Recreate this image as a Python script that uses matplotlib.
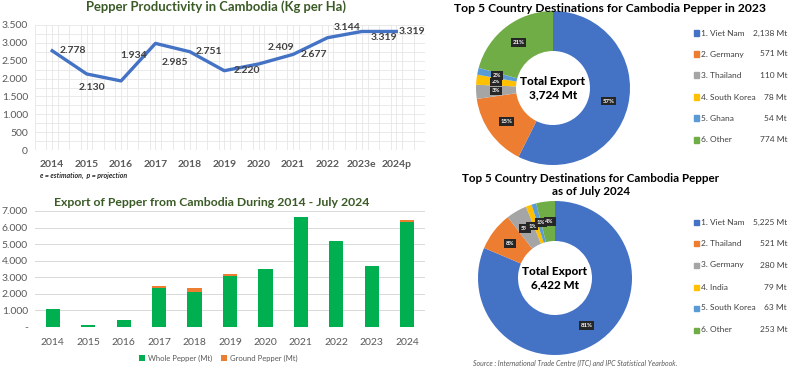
import matplotlib
matplotlib.use("Agg")
import matplotlib.pyplot as plt
import numpy as np
from matplotlib.patches import Rectangle

plt.rcParams['font.family'] = ['Lato', 'DejaVu Sans']

# productivity (kg per ha)
prod_years = ['2014', '2015', '2016', '2017', '2018', '2019', '2020', '2021', '2022', '2023e', '2024p']
prod_values = [2778, 2130, 1934, 2985, 2751, 2220, 2409, 2677, 3144, 3319, 3319]

# exports (Mt)
exp_years = ['2014', '2015', '2016', '2017', '2018', '2019', '2020', '2021', '2022', '2023', '2024']
whole_pepper = [1080, 140, 440, 2340, 2100, 3080, 3480, 6620, 5180, 3700, 6360]
ground_pepper = [0, 0, 0, 160, 260, 100, 0, 0, 0, 0, 70]

# destinations (percent labels as printed in the source chart)
dest23_names = ['1. Viet Nam', '2. Germany', '3. Thailand', '4. South Korea', '5. Ghana', '6. Other']
dest23_values = [2138, 571, 110, 78, 54, 774]
dest23_pct = [57, 15, 3, 2, 2, 21]
dest24_names = ['1. Viet Nam', '2. Thailand', '3. Germany', '4. India', '5. South Korea', '6. Other']
dest24_values = [5225, 521, 280, 79, 63, 253]
dest24_pct = [81, 8, 5, 1, 1, 4]

W, H = 800, 380
fig = plt.figure(figsize=(8, 3.8), dpi=100)


def ax_px(l, t, r, b):
    return fig.add_axes([l / W, 1 - b / H, (r - l) / W, (b - t) / H])


title_green = '#3a5a26'
tick_gray = '#595959'

# ---------- line chart ----------
ax = ax_px(35, 25, 425, 150)
x = np.arange(len(prod_years))
ax.plot(x, prod_values, color='#4472C4', lw=2.4, solid_joinstyle='round', zorder=3)
ax.set_xlim(-0.5, len(prod_years) - 0.5)
ax.set_ylim(0, 3500)
ax.set_yticks(np.arange(0, 3501, 500))
ax.set_yticklabels([f'{v:,}'.replace(',', '.') for v in range(0, 3501, 500)])
ax.set_yticks(np.arange(0, 3501, 250), minor=True)
ax.set_xticks(x)
ax.set_xticklabels(prod_years)
ax.set_xticks(np.arange(-0.5, len(prod_years), 1 / 3), minor=True)
ax.grid(True, which='both', color='#e6e6e6', lw=0.6)
ax.set_axisbelow(True)
for s in ax.spines.values():
    s.set_visible(False)
ax.tick_params(which='both', length=0)
ax.tick_params(axis='y', labelsize=7.5, colors=tick_gray, pad=5)
ax.tick_params(axis='x', labelsize=7.5, colors=tick_gray, pad=7)
for lab in ax.get_xticklabels():
    lab.set_fontweight('bold')

label_offsets = [(15, 0), (4, -10), (9, 18), (14, -14), (14, 0), (16, 0),
                 (16, 12), (15, 0), (14, 7), (16, -4), (11, 0)]
for i, v in enumerate(prod_values):
    dx, dy = label_offsets[i]
    ax.annotate(f'{v:,}'.replace(',', '.'), (x[i], v), xytext=(dx, dy),
                textcoords='offset points', ha='center', va='center',
                fontsize=7.5, fontweight='bold', color='#404040', clip_on=False)

fig.text(216 / W, 1 - 7 / H, 'Pepper Productivity in Cambodia (Kg per Ha)',
         ha='center', va='center', fontsize=9.4, fontweight='bold', color=title_green)
fig.text(40 / W, 1 - 175 / H, 'e = estimation,  p = projection', ha='left', va='center',
         fontsize=5, fontstyle='italic', fontweight='bold', color='#262626')

# ---------- bar chart ----------
ax2 = ax_px(35, 211, 425, 327)
xb = np.arange(len(exp_years))
ax2.bar(xb, whole_pepper, width=0.4, color='#00B050', label='Whole Pepper (Mt)', zorder=3)
ax2.bar(xb, ground_pepper, width=0.4, bottom=whole_pepper, color='#ED7D31',
        label='Ground Pepper (Mt)', zorder=3)
ax2.set_xlim(-0.5, len(exp_years) - 0.5)
ax2.set_ylim(0, 7000)
yt = np.arange(0, 7001, 1000)
ax2.set_yticks(yt)
ax2.set_yticklabels(['-' if v == 0 else f'{v:,}'.replace(',', '.') for v in yt])
ax2.set_xticks(xb)
ax2.set_xticklabels(exp_years)
ax2.grid(True, axis='y', color='#d9d9d9', lw=0.7)
ax2.set_axisbelow(True)
for s in ax2.spines.values():
    s.set_visible(False)
ax2.tick_params(length=0)
ax2.tick_params(axis='y', labelsize=7.5, colors=tick_gray, pad=5)
ax2.tick_params(axis='x', labelsize=7.5, colors=tick_gray, pad=8)
ax2.legend(loc='center', bbox_to_anchor=(0.47, -0.27), ncol=2, frameon=False,
           fontsize=5.5, handlelength=0.7, handleheight=0.7, columnspacing=1.2,
           handletextpad=0.4, labelcolor=tick_gray)
fig.text(212 / W, 1 - 202 / H, 'Export of Pepper from Cambodia During 2014 - July 2024',
         ha='center', va='center', fontsize=8.8, fontweight='bold', color=title_green)

# ---------- donuts ----------
colors = ['#4472C4', '#ED7D31', '#A5A5A5', '#FFC000', '#5B9BD5', '#70AD47']


def donut(cx, cy, values, pcts, names, total_txt, leg_rows, nudges):
    a = ax_px(cx - 80, cy - 80, cx + 80, cy + 80)
    r = 77 / 80
    wedges, _ = a.pie(values, colors=colors, startangle=90, counterclock=False,
                      radius=r, wedgeprops=dict(width=0.5, edgecolor='none'))
    a.set_xlim(-1, 1)
    a.set_ylim(-1, 1)
    a.set_aspect('equal')
    a.axis('off')
    rm = r - 0.25
    for w, p, (nx, ny) in zip(wedges, pcts, nudges):
        ang = np.deg2rad((w.theta1 + w.theta2) / 2)
        a.text(rm * np.cos(ang) + nx, rm * np.sin(ang) + ny, f'{p}%',
               ha='center', va='center', fontsize=4.3, fontweight='bold', color='white',
               bbox=dict(boxstyle='square,pad=0.3', fc='#262626', ec='none'))
    a.text(0, 0, total_txt, ha='center', va='center', fontsize=8.5,
           fontweight='black', color='black', linespacing=1.25)
    for i, (n, v) in enumerate(zip(names, values)):
        yy = 1 - leg_rows[i] / H
        fig.patches.append(Rectangle((694 / W, yy - 2.5 / H), 5 / W, 5 / H,
                                     transform=fig.transFigure, color=colors[i]))
        fig.text(701 / W, yy, n, ha='left', va='center', fontsize=6, color='#404040')
        fig.text(787 / W, yy, f'{v:,} Mt', ha='right', va='center', fontsize=6, color='#404040')


donut(553, 88, dest23_values, dest23_pct, dest23_names, 'Total Export\n3,724 Mt',
      [33, 54, 75, 97, 118, 140], [(0, 0)] * 6)
donut(555, 278, dest24_values, dest24_pct, dest24_names, 'Total Export\n6,422 Mt',
      [222, 243, 265, 287, 308, 330],
      [(0, 0), (0, 0), (-0.02, 0), (-0.04, -0.02), (0.02, 0.01), (0.02, 0)])

fig.text(610 / W, 1 - 8 / H, 'Top 5 Country Destinations for Cambodia Pepper in 2023',
         ha='center', va='center', fontsize=8.7, fontweight='bold', color='black')
fig.text(591 / W, 1 - 185 / H, 'Top 5 Country Destinations for Cambodia Pepper\nas of July 2024',
         ha='center', va='center', fontsize=8.4, fontweight='bold', color='black',
         linespacing=1.15)
fig.text(575 / W, 1 - 363 / H, 'Source : International Trade Centre (ITC) and IPC Statistical Yearbook.',
         ha='center', va='center', fontsize=5, fontstyle='italic', color='#595959')

fig.savefig('out.png', dpi=100, facecolor='white')
